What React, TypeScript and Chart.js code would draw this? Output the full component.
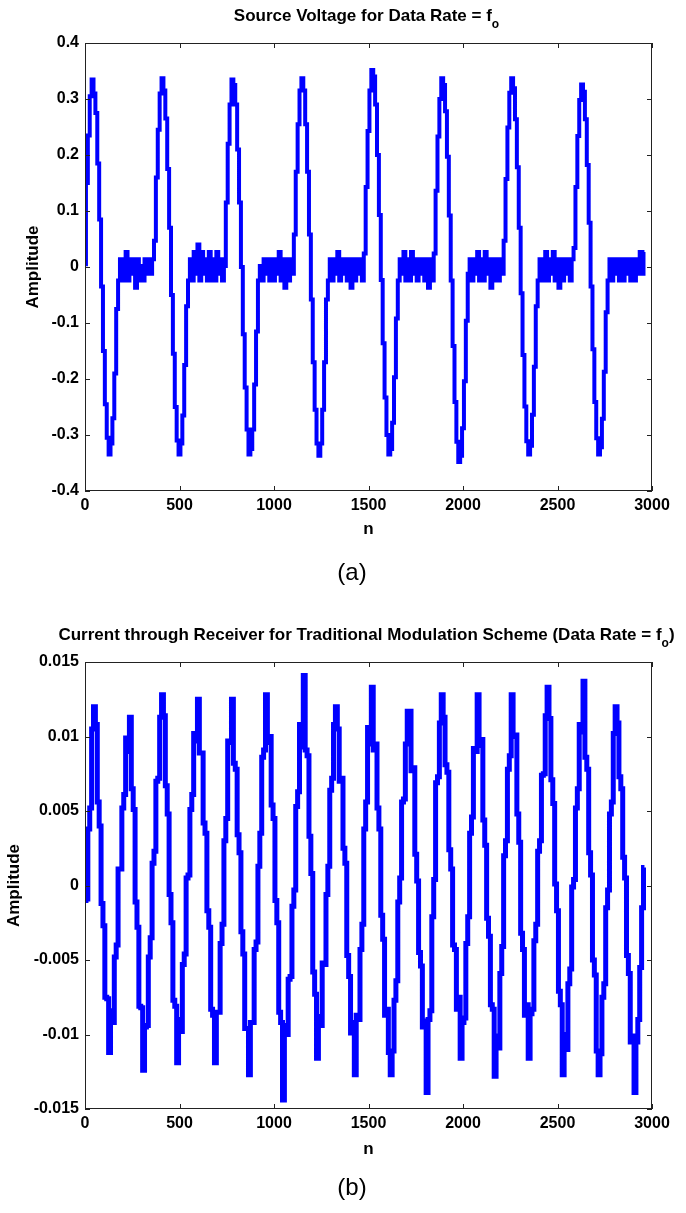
import React, { useEffect, useRef } from 'react';
import { Chart, registerables } from 'chart.js';

Chart.register(...registerables);

const FONT = "'Liberation Sans', Arial, Helvetica, sans-serif";

// sample spacing of the stored series (n = 0, 10, 20, ... 2960)
const N_STEP = 10;

const nTicks = [0, 500, 1000, 1500, 2000, 2500, 3000];
const nTickLabels = ['0', '500', '1000', '1500', '2000', '2500', '3000'];

const sourceYTicks = [-0.4, -0.3, -0.2, -0.1, 0, 0.1, 0.2, 0.3, 0.4];
const sourceYTickLabels = ['-0.4', '-0.3', '-0.2', '-0.1', '0', '0.1', '0.2', '0.3', '0.4'];

const currentYTicks = [-0.015, -0.01, -0.005, 0, 0.005, 0.01, 0.015];
const currentYTickLabels = ['-0.015', '-0.01', '-0.005', '0', '0.005', '0.01', '0.015'];

// (a) Source voltage
const sourceVoltage = [
  // pulse 1 (n 0-170)
  0.005, 0.15, 0.235, 0.305, 0.335, 0.31, 0.275, 0.185, 0.085, -0.035, -0.15, -0.245, -0.305, -0.335, -0.315, -0.27, -0.19, -0.075,
  // idle (n 180-360)
  -0.024, 0.014, -0.024, 0.014, 0.027, -0.024, 0.014, -0.012, 0.014, -0.037, 0.014, -0.024, 0.002, -0.024, 0.014, -0.012, 0.014, -0.012, 0.014,
  // pulse 2 (n 370-540)
  0.047, 0.16, 0.245, 0.31, 0.337, 0.315, 0.265, 0.175, 0.07, -0.05, -0.155, -0.25, -0.31, -0.335, -0.315, -0.265, -0.175, -0.07,
  // idle (n 550-730)
  -0.024, 0.014, -0.024, 0.027, -0.012, 0.04, -0.024, 0.027, -0.012, 0.014, -0.024, 0.027, -0.024, 0.014, -0.024, 0.027, -0.012, 0.014, -0.024,
  // pulse 3 (n 740-910)
  0.002, 0.115, 0.22, 0.29, 0.335, 0.325, 0.29, 0.21, 0.115, 0.0, -0.12, -0.215, -0.29, -0.335, -0.325, -0.29, -0.21, -0.115,
  // idle (n 920-1100)
  -0.024, 0.002, -0.024, 0.014, -0.012, 0.014, -0.024, 0.014, -0.024, 0.014, -0.012, 0.027, -0.024, 0.014, -0.037, 0.014, -0.024, 0.014, -0.012,
  // pulse 4 (n 1110-1280)
  0.058, 0.17, 0.255, 0.315, 0.337, 0.315, 0.255, 0.17, 0.058, -0.058, -0.17, -0.255, -0.315, -0.337, -0.315, -0.255, -0.17, -0.058,
  // idle (n 1290-1470)
  -0.024, 0.014, -0.024, 0.014, -0.012, 0.027, -0.024, 0.014, -0.012, 0.014, -0.024, 0.014, -0.037, 0.014, -0.024, 0.014, -0.012, 0.014, -0.024,
  // pulse 5 (n 1480-1650)
  0.024, 0.143, 0.243, 0.315, 0.352, 0.34, 0.29, 0.2, 0.093, -0.023, -0.136, -0.233, -0.3, -0.335, -0.325, -0.278, -0.197, -0.092,
  // idle (n 1660-1840)
  -0.024, 0.014, -0.012, 0.027, -0.024, 0.014, -0.024, 0.027, -0.012, 0.014, -0.024, 0.014, -0.012, 0.014, -0.024, 0.014, -0.037, 0.014, -0.024,
  // pulse 6 (n 1850-2020)
  0.024, 0.136, 0.233, 0.3, 0.337, 0.325, 0.278, 0.197, 0.092, -0.024, -0.141, -0.241, -0.312, -0.348, -0.337, -0.288, -0.204, -0.096,
  // idle (n 2030-2210)
  -0.012, 0.014, -0.024, 0.014, -0.012, 0.027, -0.024, 0.014, -0.024, 0.027, -0.012, 0.014, -0.037, 0.014, -0.024, 0.014, -0.024, 0.014, -0.012,
  // pulse 7 (n 2220-2390)
  0.047, 0.157, 0.249, 0.311, 0.337, 0.319, 0.264, 0.178, 0.07, -0.047, -0.157, -0.249, -0.311, -0.335, -0.319, -0.264, -0.178, -0.07,
  // idle (n 2400-2580)
  -0.024, 0.014, -0.024, 0.014, 0.027, -0.024, 0.014, -0.012, 0.027, -0.024, 0.014, -0.037, 0.014, -0.024, 0.014, -0.012, 0.014, -0.024, 0.014,
  // pulse 8 (n 2590-2760)
  0.034, 0.143, 0.234, 0.298, 0.326, 0.313, 0.264, 0.182, 0.079, -0.035, -0.147, -0.241, -0.306, -0.335, -0.322, -0.271, -0.187, -0.081,
  // idle (n 2770-2960)
  -0.024, 0.014, -0.024, 0.014, -0.012, 0.014, -0.024, 0.014, -0.024, 0.014, -0.012, 0.014, -0.024, 0.014, -0.024, 0.014, -0.012, 0.027, -0.012, 0.027,
];

// (b) Receiver current
const receiverCurrent = [
  -0.0010, -0.0009, 0.0038, 0.0052, 0.0105, 0.0120, 0.0108, 0.0056, 0.0040, -0.0012,
  -0.0027, -0.0075, -0.0076, -0.0112, -0.0084, -0.0092, -0.0048, -0.0040, 0.0011, 0.0011,
  0.0052, 0.0061, 0.0099, 0.0090, 0.0113, 0.0065, 0.0051, -0.0011, -0.0028, -0.0081,
  -0.0082, -0.0124, -0.0095, -0.0094, -0.0048, -0.0035, 0.0015, 0.0023, 0.0070, 0.0072,
  0.0113, 0.0128, 0.0114, 0.0067, 0.0048, -0.0006, -0.0025, -0.0077, -0.0081, -0.0119,
  -0.0090, -0.0098, -0.0053, -0.0046, 0.0005, 0.0007, 0.0051, 0.0061, 0.0102, 0.0097,
  0.0125, 0.0089, 0.0089, 0.0042, 0.0035, -0.0017, -0.0028, -0.0083, -0.0087, -0.0119,
  -0.0085, -0.0085, -0.0039, -0.0026, 0.0030, 0.0045, 0.0097, 0.0096, 0.0125, 0.0082,
  0.0078, 0.0034, 0.0022, -0.0031, -0.0046, -0.0096, -0.0096, -0.0127, -0.0092, -0.0092,
  -0.0043, -0.0038, 0.0013, 0.0035, 0.0086, 0.0091, 0.0128, 0.0096, 0.0100, 0.0054,
  0.0045, -0.0010, -0.0025, -0.0085, -0.0092, -0.0144, -0.0094, -0.0100, -0.0063, -0.0061,
  -0.0014, -0.0003, 0.0053, 0.0063, 0.0108, 0.0093, 0.0141, 0.0091, 0.0087, 0.0033,
  0.0008, -0.0058, -0.0073, -0.0116, -0.0088, -0.0094, -0.0052, -0.0053, -0.0006, 0.0013,
  0.0064, 0.0072, 0.0108, 0.0120, 0.0105, 0.0070, 0.0072, 0.0025, 0.0015, -0.0047,
  -0.0061, -0.0099, -0.0092, -0.0127, -0.0087, -0.0090, -0.0043, -0.0026, 0.0038, 0.0056,
  0.0106, 0.0095, 0.0133, 0.0091, 0.0095, 0.0052, 0.0038, -0.0020, -0.0036, -0.0087,
  -0.0083, -0.0112, -0.0127, -0.0111, -0.0077, -0.0064, -0.0011, 0.0005, 0.0056, 0.0058,
  0.0095, 0.0117, 0.0117, 0.0077, 0.0079, 0.0021, 0.0003, -0.0045, -0.0054, -0.0095,
  -0.0091, -0.0139, -0.0090, -0.0084, -0.0021, 0.0004, 0.0069, 0.0073, 0.0109, 0.0128,
  0.0113, 0.0081, 0.0076, 0.0024, 0.0011, -0.0040, -0.0043, -0.0083, -0.0075, -0.0116,
  -0.0092, -0.0089, -0.0039, -0.0021, 0.0035, 0.0046, 0.0092, 0.0090, 0.0128, 0.0094,
  0.0098, 0.0044, 0.0027, -0.0022, -0.0034, -0.0080, -0.0083, -0.0128, -0.0101, -0.0109,
  -0.0059, -0.0041, 0.0020, 0.0030, 0.0078, 0.0087, 0.0128, 0.0100, 0.0101, 0.0048,
  0.0029, -0.0032, -0.0043, -0.0087, -0.0080, -0.0116, -0.0086, -0.0083, -0.0037, -0.0026,
  0.0023, 0.0030, 0.0074, 0.0075, 0.0114, 0.0133, 0.0112, 0.0071, 0.0055, 0.0001,
  -0.0017, -0.0071, -0.0080, -0.0127, -0.0100, -0.0110, -0.0066, -0.0056, -0.0001, 0.0004,
  0.0052, 0.0065, 0.0108, 0.0103, 0.0137, 0.0086, 0.0078, 0.0022, 0.0007, -0.0050,
  -0.0060, -0.0111, -0.0127, -0.0113, -0.0075, -0.0066, -0.0015, -0.0003, 0.0048, 0.0056,
  0.0102, 0.0120, 0.0109, 0.0073, 0.0065, 0.0019, 0.0005, -0.0047, -0.0059, -0.0105,
  -0.0101, -0.0139, -0.0105, -0.0090, -0.0055, -0.0015, 0.0012,
];

type PlotProps = {
  canvasTop: number;
  canvasHeight: number;
  plotTop: number;
  plotBottom: number;
  values: number[];
  lineWidth: number;
  yMin: number;
  yMax: number;
  yTicks: number[];
  yTickLabels: string[];
  titleMain: string;
  titleSub: string;
  titleTail: string;
  titleBaseline: number;
  yTitleCenter: number;
  xTitleCenter: number;
};

const PLOT_LEFT = 85;
const PLOT_RIGHT = 652;
const WIDTH = 686;

function MatlabPlot(p: PlotProps) {
  const ref = useRef<HTMLCanvasElement>(null);

  useEffect(() => {
    const canvas = ref.current;
    if (!canvas) return;
    const points = p.values.map((v, i) => ({ x: i * N_STEP, y: v }));

    const framePlugin = {
      id: 'matlabFrame',
      afterDatasetsDraw(chart: any) {
        const { ctx, chartArea: a, scales } = chart;
        ctx.save();
        ctx.strokeStyle = '#222';
        ctx.lineWidth = 1;
        ctx.strokeRect(a.left + 0.5, a.top + 0.5, a.right - a.left - 1, a.bottom - a.top - 1);
        ctx.beginPath();
        scales.x.ticks.forEach((t: any) => {
          const px = Math.round(scales.x.getPixelForValue(t.value)) + 0.5;
          ctx.moveTo(px, a.bottom);
          ctx.lineTo(px, a.bottom - 5);
          ctx.moveTo(px, a.top);
          ctx.lineTo(px, a.top + 5);
        });
        scales.y.ticks.forEach((t: any) => {
          const py = Math.round(scales.y.getPixelForValue(t.value)) + 0.5;
          ctx.moveTo(a.left, py);
          ctx.lineTo(a.left + 5, py);
          ctx.moveTo(a.right, py);
          ctx.lineTo(a.right - 5, py);
        });
        ctx.stroke();
        ctx.restore();
      },
    };

    const titlePlugin = {
      id: 'matlabTitle',
      afterDraw(chart: any) {
        const { ctx, chartArea: a } = chart;
        const cx = (a.left + a.right) / 2 - 2;
        const big = `bold 17px ${FONT}`;
        const small = `bold 12px ${FONT}`;
        ctx.save();
        ctx.fillStyle = '#000';
        ctx.textAlign = 'left';
        ctx.textBaseline = 'alphabetic';
        ctx.font = big;
        const w1 = ctx.measureText(p.titleMain).width;
        const w3 = ctx.measureText(p.titleTail).width;
        ctx.font = small;
        const w2 = ctx.measureText(p.titleSub).width;
        let x = cx - (w1 + w2 + w3) / 2;
        ctx.font = big;
        ctx.fillText(p.titleMain, x, p.titleBaseline);
        x += w1;
        ctx.font = small;
        ctx.fillText(p.titleSub, x, p.titleBaseline + 7);
        x += w2;
        ctx.font = big;
        ctx.fillText(p.titleTail, x, p.titleBaseline);
        ctx.restore();
      },
    };

    const tickFont = { family: FONT, size: 16, weight: 'bold' as const };
    const labelFont = { family: FONT, size: 17, weight: 'bold' as const };

    const chart = new Chart(canvas, {
      type: 'line',
      data: {
        datasets: [
          {
            data: points,
            borderColor: '#0000ff',
            borderWidth: p.lineWidth,
            borderJoinStyle: 'miter',
            borderCapStyle: 'butt',
            stepped: 'middle',
            pointRadius: 0,
            fill: false,
            tension: 0,
          },
        ],
      },
      options: {
        animation: false,
        responsive: false,
        devicePixelRatio: 1,
        events: [],
        layout: { padding: { left: 0, right: WIDTH - PLOT_RIGHT, top: p.plotTop, bottom: 0 } },
        plugins: {
          legend: { display: false },
          tooltip: { enabled: false },
          title: { display: false },
        },
        scales: {
          x: {
            type: 'linear',
            min: 0,
            max: 3000,
            afterBuildTicks: (s: any) => {
              s.ticks = nTicks.map((v) => ({ value: v }));
            },
            afterFit: (s: any) => {
              s.height = p.canvasHeight - p.plotBottom;
            },
            ticks: {
              autoSkip: false,
              maxRotation: 0,
              padding: 5,
              color: '#000',
              font: tickFont,
              callback: (_v: any, i: number) => nTickLabels[i],
            },
            grid: { display: false, drawTicks: false },
            border: { display: false },
            title: {
              display: true,
              text: 'n',
              color: '#000',
              font: labelFont,
              padding: { top: 0, bottom: p.canvasHeight - p.xTitleCenter - 10.2 - 1 },
            },
          },
          y: {
            type: 'linear',
            min: p.yMin,
            max: p.yMax,
            afterBuildTicks: (s: any) => {
              s.ticks = p.yTicks.map((v) => ({ value: v }));
            },
            afterFit: (s: any) => {
              s.width = PLOT_LEFT;
            },
            ticks: {
              autoSkip: false,
              padding: 6,
              color: '#000',
              font: tickFont,
              callback: (_v: any, i: number) => p.yTickLabels[i],
            },
            grid: { display: false, drawTicks: false },
            border: { display: false },
            title: {
              display: true,
              text: 'Amplitude',
              color: '#000',
              font: labelFont,
              padding: { top: p.yTitleCenter - 10.2, bottom: 0 },
            },
          },
        },
      },
      plugins: [framePlugin, titlePlugin],
    } as any);

    return () => chart.destroy();
  }, []);

  return (
    <canvas
      ref={ref}
      width={WIDTH}
      height={p.canvasHeight}
      style={{ position: 'absolute', left: 0, top: p.canvasTop, width: WIDTH, height: p.canvasHeight }}
    />
  );
}

const captionStyle = (top: number): React.CSSProperties => ({
  position: 'absolute',
  left: 302,
  top,
  width: 100,
  textAlign: 'center',
  fontFamily: FONT,
  fontSize: 24,
  lineHeight: '28px',
  color: '#000',
});

export default function App() {
  return (
    <div style={{ position: 'absolute', left: 0, top: 0, width: WIDTH, height: 1213, background: '#fff', overflow: 'hidden' }}>
      <MatlabPlot
        canvasTop={0}
        canvasHeight={560}
        plotTop={43}
        plotBottom={491}
        values={sourceVoltage}
        lineWidth={4}
        yMin={-0.4}
        yMax={0.4}
        yTicks={sourceYTicks}
        yTickLabels={sourceYTickLabels}
        titleMain="Source Voltage for Data Rate = f"
        titleSub="o"
        titleTail=""
        titleBaseline={21}
        yTitleCenter={33}
        xTitleCenter={528}
      />
      <div style={captionStyle(558)}>(a)</div>
      <MatlabPlot
        canvasTop={590}
        canvasHeight={590}
        plotTop={72}
        plotBottom={519}
        values={receiverCurrent}
        lineWidth={5}
        yMin={-0.015}
        yMax={0.015}
        yTicks={currentYTicks}
        yTickLabels={currentYTickLabels}
        titleMain="Current through Receiver for Traditional Modulation Scheme (Data Rate = f"
        titleSub="o"
        titleTail=")"
        titleBaseline={50}
        yTitleCenter={14}
        xTitleCenter={1148 - 590}
      />
      <div style={captionStyle(1173)}>(b)</div>
    </div>
  );
}
